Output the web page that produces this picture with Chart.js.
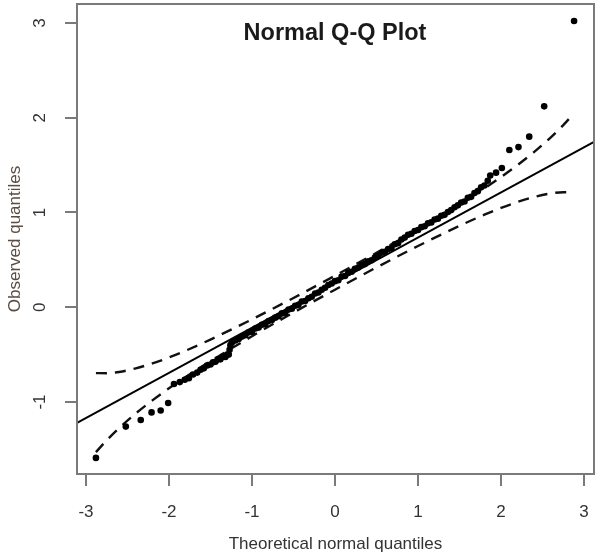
<!DOCTYPE html>
<html>
<head>
<meta charset="utf-8">
<script src="https://cdn.jsdelivr.net/npm/chart.js@4.4.1/dist/chart.umd.min.js"></script>
<style>
html,body{margin:0;padding:0;background:#fff;}
#c{display:block;}
</style>
</head>
<body>
<canvas id="c" width="600" height="559"></canvas>
<script>
// Theoretical normal quantiles (x) and observed quantiles (y) of the sample points
const theoretical = [
  -2.88,-2.52,-2.34,-2.21,-2.10,-2.01,
  -1.94,-1.87,-1.81,-1.76,-1.71,-1.66,-1.62,-1.58,-1.54,-1.50,-1.47,-1.44,-1.41,-1.38,-1.35,-1.32,-1.30,-1.28,-1.27,-1.26,
  -1.24,-1.20,-1.16,-1.12,-1.08,-1.04,-1.00,-0.96,-0.92,-0.88,-0.84,-0.80,-0.76,-0.72,-0.68,-0.64,-0.60,-0.56,-0.52,-0.48,
  -0.44,-0.40,-0.36,-0.32,-0.28,-0.24,-0.20,-0.16,-0.12,-0.08,-0.04,0.00,0.04,0.08,0.12,0.16,0.20,0.24,0.28,0.32,0.36,
  0.40,0.44,0.48,0.52,0.56,0.60,0.64,0.68,0.72,0.76,0.80,0.84,0.88,0.92,0.96,1.00,1.04,1.08,1.12,1.16,1.20,1.24,1.28,
  1.32,1.36,1.40,1.44,1.48,1.52,1.56,1.60,1.64,1.68,1.72,1.76,1.80,1.84,1.87,1.94,2.01,2.10,2.21,2.34,2.52,2.88
];
const observed = [
  -1.59,-1.26,-1.19,-1.11,-1.09,-1.01,
  -0.81,-0.79,-0.765,-0.75,-0.71,-0.69,-0.66,-0.645,-0.615,-0.605,-0.58,-0.575,-0.55,-0.55,-0.52,-0.525,-0.50,-0.50,-0.45,-0.40,
  -0.37,-0.35,-0.335,-0.31,-0.295,-0.265,-0.26,-0.225,-0.215,-0.185,-0.18,-0.145,-0.135,-0.11,-0.095,-0.065,-0.06,-0.025,-0.015,0.015,
  0.025,0.06,0.065,0.095,0.11,0.145,0.155,0.185,0.205,0.235,0.25,0.275,0.285,0.325,0.33,0.365,0.375,0.405,0.42,0.445,0.455,
  0.485,0.495,0.525,0.54,0.575,0.585,0.615,0.625,0.665,0.675,0.715,0.735,0.765,0.775,0.805,0.815,0.845,0.855,0.885,0.895,0.925,0.935,0.965,
  0.975,1.005,1.025,1.055,1.075,1.105,1.115,1.155,1.165,1.205,1.225,1.265,1.285,1.335,1.39,1.42,1.47,1.66,1.69,1.80,2.12,3.02
];
// Reference line end points
const refX = [-3.2, 3.2];
const refY = [-1.264, 1.782];
// Confidence envelope
const bandX     = [-2.88,-2.75,-2.60,-2.40,-2.20,-2.00,-1.80,-1.50,-1.00,-0.50,0.00,0.50,1.00,1.50,1.80,2.00,2.20,2.40,2.60,2.75,2.88];
const bandUpper = [-0.695,-0.696,-0.683,-0.645,-0.593,-0.530,-0.459,-0.341,-0.128,0.098,0.333,0.574,0.824,1.087,1.255,1.374,1.501,1.639,1.793,1.922,2.047];
const bandLower = [-1.529,-1.404,-1.275,-1.121,-0.983,-0.856,-0.737,-0.569,-0.306,-0.056,0.185,0.420,0.646,0.859,0.977,1.048,1.111,1.163,1.201,1.214,1.212];
// Tick labels
const xTicks = [-3,-2,-1,0,1,2,3];
const yTicks = [-1,0,1,2,3];

const FONT = "'Liberation Sans', Arial, Helvetica, sans-serif";
const pts = (xs, ys) => xs.map((x, i) => ({x: x, y: ys[i]}));

const boxPlugin = {
  id: 'boxAndTitle',
  afterDraw(chart) {
    const {ctx, chartArea: a} = chart;
    ctx.save();
    ctx.strokeStyle = '#7a7a7a';
    ctx.lineWidth = 2;
    ctx.strokeRect(a.left, a.top, a.right - a.left, a.bottom - a.top);
    ctx.fillStyle = '#1a1a1a';
    ctx.font = "bold 23.5px " + FONT;
    ctx.textAlign = 'center';
    ctx.textBaseline = 'middle';
    ctx.fillText('Normal Q-Q Plot', 335, 34);
    ctx.restore();
  }
};

const noPad = s => { s.paddingTop = 0; s.paddingBottom = 0; s.paddingLeft = 0; s.paddingRight = 0; };

new Chart(document.getElementById('c'), {
  type: 'scatter',
  data: {
    datasets: [
      {
        label: 'points',
        data: pts(theoretical, observed),
        pointRadius: 3.3,
        pointHoverRadius: 3.3,
        backgroundColor: '#000',
        borderWidth: 0,
        showLine: false
      },
      {
        label: 'reference',
        data: pts(refX, refY),
        showLine: true,
        pointRadius: 0,
        borderColor: '#000',
        borderWidth: 2,
        clip: 0
      },
      {
        label: 'upper',
        data: pts(bandX, bandUpper),
        showLine: true,
        pointRadius: 0,
        borderColor: '#111',
        borderWidth: 2.4,
        borderDash: [11, 8],
        cubicInterpolationMode: 'monotone'
      },
      {
        label: 'lower',
        data: pts(bandX, bandLower),
        showLine: true,
        pointRadius: 0,
        borderColor: '#111',
        borderWidth: 2.4,
        borderDash: [11, 8],
        cubicInterpolationMode: 'monotone'
      }
    ]
  },
  options: {
    responsive: false,
    animation: false,
    events: [],
    layout: { padding: { left: 0, right: 6, top: 4, bottom: 0 } },
    plugins: { legend: { display: false }, tooltip: { enabled: false } },
    scales: {
      x: {
        type: 'linear',
        min: -3.108, max: 3.12,
        afterBuildTicks: s => { s.ticks = xTicks.map(v => ({value: v})); },
        afterFit: s => { s.height = 85; noPad(s); },
        border: { display: false },
        grid: { drawOnChartArea: false, drawTicks: true, tickLength: 12, color: '#7a7a7a', lineWidth: 2 },
        ticks: { font: { family: FONT, size: 17 }, color: '#333', padding: 16, maxRotation: 0, autoSkip: false },
        title: { display: true, text: 'Theoretical normal quantiles', font: { family: FONT, size: 17 }, color: '#333', padding: { top: 0, bottom: 4 } }
      },
      y: {
        type: 'linear',
        min: -1.76, max: 3.2,
        afterBuildTicks: s => { s.ticks = yTicks.map(v => ({value: v})); },
        afterFit: s => { s.width = 77; noPad(s); },
        border: { display: false },
        grid: { drawOnChartArea: false, drawTicks: true, tickLength: 12, color: '#7a7a7a', lineWidth: 2 },
        ticks: { font: { family: FONT, size: 17 }, color: '#333', padding: 17, minRotation: 90, maxRotation: 90, crossAlign: 'center', autoSkip: false },
        title: { display: true, text: 'Observed quantiles', font: { family: FONT, size: 17 }, color: '#5a4c42', padding: { top: 5, bottom: 0 } }
      }
    }
  },
  plugins: [boxPlugin]
});
</script>
</body>
</html>
